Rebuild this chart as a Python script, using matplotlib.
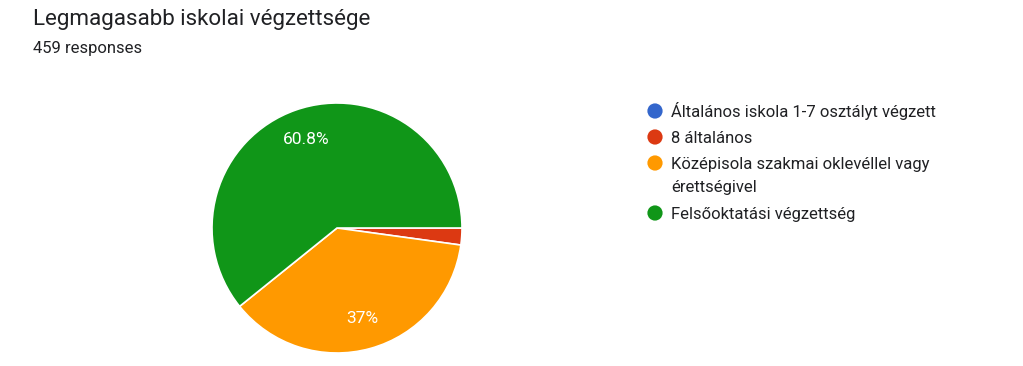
import matplotlib.pyplot as plt

plt.rcParams['font.family'] = ['Roboto', 'DejaVu Sans']

# adatok
categories = ['Általános iskola 1-7 osztályt végzett', '8 általános',
              'Középisola szakmai oklevéllel vagy\nérettségivel',
              'Felsőoktatási végzettség']
counts = [0, 10, 170, 279]
colors = ['#3366cc', '#dc3912', '#ff9900', '#109618']

W, H = 1023, 366
fig = plt.figure(figsize=(W / 100, H / 100), dpi=100)

fig.text(33 / W, 1 - 20 / H, 'Legmagasabb iskolai végzettsége', fontsize=16.1,
         color='#202124', va='center', ha='left')
fig.text(33 / W, 1 - 49 / H, '459 responses', fontsize=12,
         color='#202124', va='center', ha='left')

# kördiagram
cx, cy, r = 337, 228, 125
ax = fig.add_axes([(cx - r) / W, (H - cy - r) / H, 2 * r / W, 2 * r / H])


def pct(p):
    if p < 5:
        return ''
    s = '%.1f' % p
    if s.endswith('.0'):
        s = s[:-2]
    return s + '%'


ax.pie(counts, colors=colors, startangle=0, counterclock=False,
       autopct=pct, pctdistance=0.75, radius=1,
       wedgeprops=dict(edgecolor='white', linewidth=1.2),
       textprops=dict(color='white', fontsize=12.5))
ax.set_xlim(-1, 1)
ax.set_ylim(-1, 1)
ax.set_aspect('equal')
ax.axis('off')

# jelmagyarázat
lax = fig.add_axes([0, 0, 1, 1])
lax.set_xlim(0, W)
lax.set_ylim(H, 0)
lax.axis('off')
rows_y = [111, 137, 163, 213]
for y, lab, c in zip(rows_y, categories, colors):
    lax.scatter([655], [y], s=120, color=c, edgecolors='none')
    first, *rest = lab.split('\n')
    lax.text(671, y + 6, first, fontsize=12, color='#202124',
             va='baseline', ha='left')
    for i, line in enumerate(rest, 1):
        lax.text(671, y + 6 + 23 * i, line, fontsize=12, color='#202124',
                 va='baseline', ha='left')

fig.savefig('out.png', dpi=100)
